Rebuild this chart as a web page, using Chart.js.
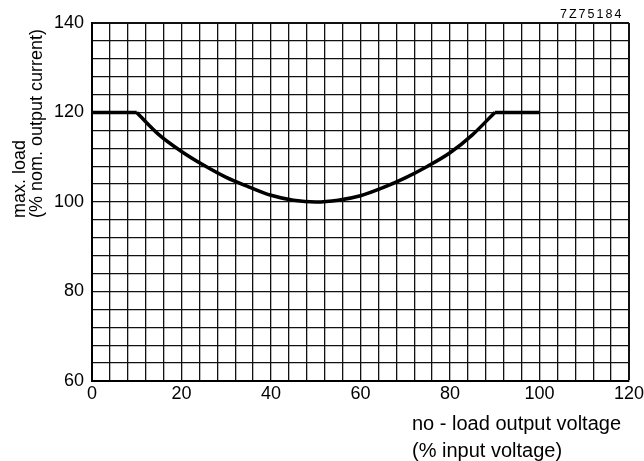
<!DOCTYPE html>
<html>
<head>
<meta charset="utf-8">
<script src="https://cdn.jsdelivr.net/npm/chart.js@4/dist/chart.umd.min.js"></script>
<style>
    body { margin: 0; background: #fff; }
    canvas { display: block; }
</style>
</head>
<body>
<canvas id="grafico" width="644" height="461"></canvas>
<script>
// Dados
const tensaoSemCarga = [0, 10, 15, 20, 25, 30, 35, 40, 45, 50, 55, 60, 65, 70, 75, 80, 85, 90, 100];
const cargaMaxima = [120, 120, 115, 111.3, 108.2, 105.5, 103.4, 101.5, 100.4, 100, 100.4, 101.4, 103.2, 105.4, 108, 111, 115, 120, 120];

// Rótulos dos eixos
const rotulosX = [0, 20, 40, 60, 80, 100, 120];
const rotulosY = [60, 80, 100, 120, 140];
const tituloX = ['no - load output voltage', '(% input voltage)'];
const tituloY = ['max. load', '(% nom. output current)'];
const codigo = '7Z75184';

// Plugin para os títulos e o código no canto
const titulos = {
    id: 'titulos',
    afterDraw(chart) {
        const ctx = chart.ctx;
        ctx.save();
        ctx.fillStyle = '#000';
        ctx.textAlign = 'left';
        ctx.textBaseline = 'alphabetic';

        // Título do eixo x, alinhado à esquerda
        ctx.font = '20px "Liberation Sans", Arial, sans-serif';
        ctx.fillText(tituloX[0], 412, 430);
        ctx.fillText(tituloX[1], 412, 457);

        // Título do eixo y, girado
        ctx.save();
        ctx.translate(0, 218);
        ctx.rotate(-Math.PI / 2);
        ctx.font = '18px "Liberation Sans", Arial, sans-serif';
        ctx.fillText(tituloY[0], 0, 25);
        ctx.fillText(tituloY[1], 0, 42);
        ctx.restore();

        // Código da figura
        ctx.font = '12.5px "Liberation Sans", Arial, sans-serif';
        ctx.letterSpacing = '2px';
        ctx.fillText(codigo, 560, 18);
        ctx.restore();
    }
};

const pontos = tensaoSemCarga.map((x, i) => ({ x: x, y: cargaMaxima[i] }));

// Divide a série: trechos planos e a curva do meio (cantos vivos em 10 e 90)
const iInicio = tensaoSemCarga.indexOf(10);
const iFim = tensaoSemCarga.indexOf(90);

const estilo = {
    borderColor: '#000',
    borderWidth: 3.5,
    pointRadius: 0,
    fill: false
};

const fonteTicks = { family: '"Liberation Sans", Arial, sans-serif', size: 18 };

new Chart(document.getElementById('grafico'), {
    type: 'line',
    data: {
        datasets: [
            { ...estilo, data: pontos.slice(0, iInicio + 1), tension: 0 },
            { ...estilo, data: pontos.slice(iInicio, iFim + 1), cubicInterpolationMode: 'monotone' },
            { ...estilo, data: pontos.slice(iFim), tension: 0 }
        ]
    },
    options: {
        responsive: false,
        animation: false,
        layout: { padding: { top: 23, right: 15, left: 0, bottom: 0 } },
        plugins: { legend: { display: false }, tooltip: { enabled: false } },
        scales: {
            x: {
                type: 'linear',
                min: 0,
                max: 120,
                ticks: {
                    stepSize: 4,
                    autoSkip: false,
                    maxRotation: 0,
                    padding: 2,
                    color: '#000',
                    font: fonteTicks,
                    callback: v => rotulosX.includes(v) ? String(v) : ''
                },
                grid: {
                    color: '#111',
                    lineWidth: c => (c.tick && c.tick.value === 120) ? 2 : 1.3,
                    drawTicks: false
                },
                border: { color: '#000', width: 2 },
                afterFit(s) {
                    s.height = 80;
                    s.paddingLeft = 0;
                    s.paddingRight = 0;
                }
            },
            y: {
                min: 60,
                max: 140,
                ticks: {
                    stepSize: 4,
                    autoSkip: false,
                    padding: 8,
                    color: '#000',
                    font: fonteTicks,
                    callback: v => rotulosY.includes(v) ? String(v) : ''
                },
                grid: {
                    color: '#111',
                    lineWidth: c => (c.tick && c.tick.value === 140) ? 2 : 1.3,
                    drawTicks: false
                },
                border: { color: '#000', width: 2 },
                afterFit(s) {
                    s.width = 92;
                    s.paddingTop = 0;
                    s.paddingBottom = 0;
                }
            }
        }
    },
    plugins: [titulos]
});
</script>
</body>
</html>
